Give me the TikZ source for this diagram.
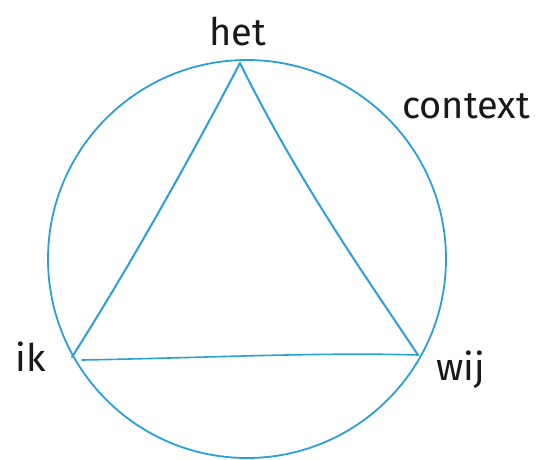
\documentclass[tikz,border=0pt]{standalone}
\usepackage{fontspec}
\setmainfont{Fira Sans}
\definecolor{lineblue}{HTML}{2A9FDB}
\begin{document}
\begin{tikzpicture}[x=1pt,y=-1pt,
  edge/.style={draw=lineblue,line width=2pt,line cap=round,line join=round},
  lbl/.style={font=\fontsize{38}{42}\selectfont,text=black!90,inner sep=0pt}]
\useasboundingbox (0,0) rectangle (542,459);
\clip (0,0) rectangle (542,459);
% circle
\coordinate (c) at (247,259);
\draw[edge,line width=1.8pt] (c) circle (199);
% vertices
\coordinate (het) at (240,63);
\coordinate (ik) at (72,357);
\coordinate (wij) at (418,355);
\coordinate (ikb) at (82,360);
% triangle sides (slightly hand-drawn)
\draw[edge] (ik) .. controls (140,250) and (205,130) .. (het);
\draw[edge] (het) .. controls (300,185) and (375,290) .. (wij);
\draw[edge,line width=1.6pt] (ikb) .. controls (200,358) and (320,352) .. (wij);
% labels
\node[lbl] (thet) at (238,32) {het};
\node[lbl] (tctx) at (466,106) {context};
\node[lbl] (tik) at (31,357) {ik};
\node[lbl] (twij) at (461,370) {wij};
\end{tikzpicture}
\end{document}
